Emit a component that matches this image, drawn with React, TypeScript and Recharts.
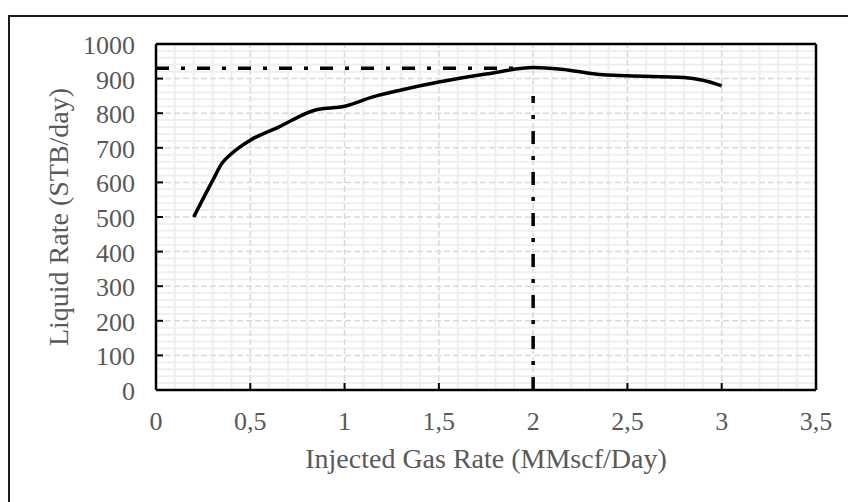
import { ComposedChart, Line, XAxis, YAxis, ReferenceLine } from "recharts";

// gas lift performance curve
const gasRate = [0.2, 0.3, 0.35, 0.4, 0.5, 0.65, 0.85, 1.0, 1.15, 1.3, 1.5, 1.75, 2.0, 2.15, 2.35, 2.5, 2.8, 2.9, 3.0];
const liquidRate = [500, 605, 655, 683, 722, 760, 810, 820, 847, 867, 890, 913, 932, 927, 912, 908, 903, 895, 879];

const xTicks = [0, 0.5, 1, 1.5, 2, 2.5, 3, 3.5];
const yTicks = [0, 100, 200, 300, 400, 500, 600, 700, 800, 900, 1000];
const xMajorGrid = [0.5, 1, 1.5, 2, 2.5, 3];
const yMajorGrid = [100, 200, 300, 400, 500, 600, 700, 800, 900];
const xMinorGrid = [0.1, 0.2, 0.3, 0.4, 0.6, 0.7, 0.8, 0.9, 1.1, 1.2, 1.3, 1.4, 1.6, 1.7, 1.8, 1.9, 2.1, 2.2, 2.3, 2.4, 2.6, 2.7, 2.8, 2.9, 3.1, 3.2, 3.3, 3.4];
const yMinorGrid = [20, 40, 60, 80, 120, 140, 160, 180, 220, 240, 260, 280, 320, 340, 360, 380, 420, 440, 460, 480, 520, 540, 560, 580, 620, 640, 660, 680, 720, 740, 760, 780, 820, 840, 860, 880, 920, 940, 960, 980];

// optimum guide lines
const optRate = [0, 1.95];
const optLiquid = 930;
const optX = 2;
const optVertical = [0, 850];

const curveData = gasRate.map((x, i) => ({ x, y: liquidRate[i] }));
const hLineData = optRate.map((x) => ({ x, y: optLiquid }));
const vLineData = optVertical.map((y) => ({ x: optX, y }));

const FONT = "'Liberation Serif', 'DejaVu Serif', serif";
const GRAY = "#595959";
const fmt = (v: number) => String(v).replace(".", ",");

const BottomTick = ({ x, y, payload }: any) => (
  <g>
    <line x1={x} y1={y} x2={x} y2={y - 7} stroke="#000" strokeWidth={2} />
    <text x={x} y={y + 40} textAnchor="middle" fill={GRAY} fontSize={26} fontFamily={FONT}>
      {fmt(payload.value)}
    </text>
  </g>
);

const LeftTick = ({ x, y, payload }: any) => (
  <g>
    <line x1={x} y1={y} x2={x + 7} y2={y} stroke="#000" strokeWidth={2} />
    <text x={x - 21} y={y + 10} textAnchor="end" fill={GRAY} fontSize={26} fontFamily={FONT}>
      {payload.value}
    </text>
  </g>
);

const TopTick = ({ x, y }: any) => <line x1={x} y1={y} x2={x} y2={y + 7} stroke="#000" strokeWidth={2} />;
const RightTick = ({ x, y }: any) => <line x1={x} y1={y} x2={x - 7} y2={y} stroke="#000" strokeWidth={2} />;

const axisLine = { stroke: "#000", strokeWidth: 2.5 };

export default function App() {
  return (
    <div style={{ position: "absolute", left: 0, top: 0, width: 848, height: 502, overflow: "hidden", background: "#fff" }}>
      <div
        style={{
          position: "absolute",
          left: 8,
          top: 15,
          width: 900,
          height: 600,
          border: "2px solid #1a1a1a",
          boxSizing: "border-box",
        }}
      />
      <div style={{ position: "absolute", left: 0, top: 0 }}>
        <ComposedChart width={848} height={502} margin={{ top: 34, right: 22, bottom: 72, left: 96 }}>
          {xMinorGrid.map((v) => (
            <ReferenceLine key={"xm" + v} x={v} stroke="#efefef" strokeWidth={2} />
          ))}
          {yMinorGrid.map((v) => (
            <ReferenceLine key={"ym" + v} y={v} stroke="#efefef" strokeWidth={2} />
          ))}
          {xMajorGrid.map((v) => (
            <ReferenceLine key={"xM" + v} x={v} stroke="#d9d9d9" strokeWidth={1.5} strokeDasharray="6 3" />
          ))}
          {yMajorGrid.map((v) => (
            <ReferenceLine key={"yM" + v} y={v} stroke="#d9d9d9" strokeWidth={1.5} strokeDasharray="6 3" />
          ))}
          <Line
            data={hLineData}
            dataKey="y"
            type="linear"
            stroke="#000"
            strokeWidth={3.5}
            strokeDasharray="13 12 4 12"
            dot={false}
            isAnimationActive={false}
          />
          <Line
            data={vLineData}
            dataKey="y"
            type="linear"
            stroke="#000"
            strokeWidth={3.5}
            strokeDasharray="13 12 4 12"
            dot={false}
            isAnimationActive={false}
          />
          <Line
            data={curveData}
            dataKey="y"
            type="monotone"
            stroke="#000"
            strokeWidth={3.5}
            dot={false}
            isAnimationActive={false}
          />
          <XAxis
            dataKey="x"
            type="number"
            domain={[0, 3.5]}
            ticks={xTicks}
            height={40}
            tickSize={0}
            tickMargin={0}
            tickLine={false}
            axisLine={axisLine}
            tick={<BottomTick />}
            interval={0}
            allowDataOverflow
            label={{
              content: ({ viewBox }: any) => (
                <text
                  x={viewBox.x + viewBox.width / 2}
                  y={468}
                  textAnchor="middle"
                  fill={GRAY}
                  fontSize={28}
                  fontFamily={FONT}
                >
                  Injected Gas Rate (MMscf/Day)
                </text>
              ),
            }}
          />
          <XAxis
            xAxisId="top"
            orientation="top"
            type="number"
            domain={[0, 3.5]}
            ticks={xTicks}
            height={10}
            tickSize={0}
            tickMargin={0}
            tickLine={false}
            axisLine={axisLine}
            tick={<TopTick />}
            interval={0}
          />
          <YAxis
            type="number"
            domain={[0, 1000]}
            ticks={yTicks}
            width={60}
            tickSize={0}
            tickMargin={0}
            tickLine={false}
            axisLine={axisLine}
            tick={<LeftTick />}
            interval={0}
            allowDataOverflow
            label={{
              content: ({ viewBox }: any) => {
                const cy = viewBox.y + viewBox.height / 2;
                return (
                  <text
                    x={68}
                    y={cy}
                    transform={`rotate(-90, 68, ${cy})`}
                    textAnchor="middle"
                    fill={GRAY}
                    fontSize={28}
                    fontFamily={FONT}
                  >
                    Liquid Rate (STB/day)
                  </text>
                );
              },
            }}
          />
          <YAxis
            yAxisId="right"
            orientation="right"
            type="number"
            domain={[0, 1000]}
            ticks={yTicks}
            width={10}
            tickSize={0}
            tickMargin={0}
            tickLine={false}
            axisLine={axisLine}
            tick={<RightTick />}
            interval={0}
          />
        </ComposedChart>
      </div>
    </div>
  );
}
